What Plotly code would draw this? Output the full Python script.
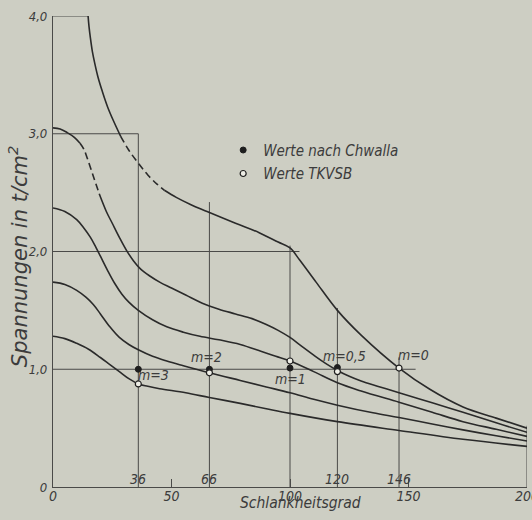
import plotly.graph_objects as go

# ---------------- data ----------------
# m = 0 curve (split: solid / dashed / solid)
m0_x1 = [14.8, 15.2, 15.8, 16.6, 17.6, 19.0, 20.8, 23.0, 25.5, 28.5]
m0_y1 = [4.00, 3.91, 3.81, 3.70, 3.60, 3.48, 3.36, 3.23, 3.11, 2.98]
m0_x2 = [28.5, 32.0, 36.0, 40.0, 44.0, 47.0]
m0_y2 = [2.98, 2.86, 2.75, 2.65, 2.57, 2.52]
m0_x3 = [47, 52, 58, 65, 77, 87, 95, 100, 104, 111, 120, 130, 146, 159, 173, 187, 200]
m0_y3 = [2.52, 2.46, 2.40, 2.34, 2.24, 2.16, 2.08, 2.03, 1.93, 1.74, 1.50, 1.29, 1.01,
         0.83, 0.68, 0.585, 0.50]

# m = 0,5 curve (split: solid / dashed / solid)
m05_x1 = [0, 3, 6, 9, 11.4]
m05_y1 = [3.05, 3.04, 3.01, 2.97, 2.92]
m05_x2 = [11.4, 13.0, 14.5, 16.0, 17.5, 19.5]
m05_y2 = [2.92, 2.87, 2.79, 2.70, 2.61, 2.49]
m05_x3 = [19.5, 22.5, 25, 28, 31, 34, 37, 41, 45, 50, 56, 63, 70, 77, 84, 90, 95, 100,
          105, 110, 115, 120, 125, 130, 138, 146, 160, 173, 187, 200]
m05_y3 = [2.49, 2.34, 2.24, 2.12, 2.01, 1.92, 1.85, 1.79, 1.74, 1.69, 1.63, 1.56, 1.51,
          1.47, 1.43, 1.38, 1.33, 1.27, 1.195, 1.12, 1.05, 0.99, 0.94, 0.90, 0.85, 0.80,
          0.715, 0.635, 0.545, 0.465]

m1_x = [0, 5, 10, 13, 15.8, 18, 20, 23, 26, 29, 32, 36, 42, 48, 55, 62, 70, 79, 88, 94,
        100, 110, 120, 130, 146, 160, 173, 187, 200]
m1_y = [2.37, 2.34, 2.27, 2.20, 2.12, 2.04, 1.96, 1.84, 1.73, 1.64, 1.57, 1.50, 1.42,
        1.36, 1.315, 1.28, 1.25, 1.21, 1.15, 1.11, 1.07, 0.98, 0.885, 0.815, 0.72, 0.635,
        0.555, 0.49, 0.43]

m2_x = [0, 5, 10, 14, 17, 20, 24, 28, 32, 36, 42, 48, 55, 66, 79, 90, 100, 110, 120,
        135, 146, 160, 173, 187, 200]
m2_y = [1.74, 1.72, 1.67, 1.61, 1.55, 1.47, 1.36, 1.27, 1.21, 1.165, 1.11, 1.07, 1.03,
        0.97, 0.905, 0.85, 0.80, 0.745, 0.695, 0.63, 0.59, 0.535, 0.485, 0.435, 0.39]

m3_x = [0, 5, 10, 15, 20, 24, 28, 32, 36, 40, 45, 56, 66, 79, 90, 100, 120, 146, 173, 200]
m3_y = [1.28, 1.26, 1.22, 1.17, 1.10, 1.04, 0.98, 0.92, 0.875, 0.855, 0.835, 0.80, 0.76,
        0.71, 0.665, 0.625, 0.555, 0.48, 0.405, 0.345]

# comparison points
chwalla_x = [36, 66, 100, 120]
chwalla_y = [1.00, 1.00, 1.01, 1.015]
tkvsb_x = [36, 66, 100, 120, 146]
tkvsb_y = [0.875, 0.97, 1.07, 0.98, 1.01]

# construction lines
vline_x = [36, 66, 100, 120, 146, 200]
vline_top = [3.0, 2.42, 2.05, 1.52, 1.10, 0.52]
hline_y = [1.0, 2.0, 3.0, 4.0]
hline_end = [153, 104, 36, 14.8]

# labels
vline_labels = ["36", "66", "120", "146"]
vline_label_x = [36, 66, 120, 146]
m_labels = ["m=3", "m=2", "m=1", "m=0,5", "m=0"]
m_label_x = [42.6, 64.8, 100, 123.2, 152.3]
m_label_y = [0.95, 1.10, 0.92, 1.11, 1.12]

x_ticks = [0, 50, 100, 150, 200]
y_ticks = [0, 1, 2, 3, 4]
y_ticktext = ["0", "1,0", "2,0", "3,0", "4,0"]

# ---------------- style ----------------
BG = "#cdcec3"
INK = "#2a2a2a"
THIN = "#4a4a48"
TXT = "#3c3c3c"
FONT = "Liberation Sans Narrow, DejaVu Sans Condensed, sans-serif"
WIDEFONT = "DejaVu Sans, sans-serif"
DASH = "7px,4px"

fig = go.Figure()

# construction lines
vx, vy = [], []
for x, t in zip(vline_x, vline_top):
    vx += [x, x, None]
    vy += [0, t, None]
for y, e in zip(hline_y, hline_end):
    vx += [0, e, None]
    vy += [y, y, None]
fig.add_trace(go.Scatter(x=vx, y=vy, mode="lines", line=dict(color=THIN, width=1),
                         showlegend=False, hoverinfo="skip"))

segments = [
    (m0_x1, m0_y1, "solid"), (m0_x2, m0_y2, DASH), (m0_x3, m0_y3, "solid"),
    (m05_x1, m05_y1, "solid"), (m05_x2, m05_y2, DASH), (m05_x3, m05_y3, "solid"),
    (m1_x, m1_y, "solid"), (m2_x, m2_y, "solid"), (m3_x, m3_y, "solid"),
]
for xs, ys, d in segments:
    fig.add_trace(go.Scatter(x=xs, y=ys, mode="lines",
                             line=dict(color=INK, width=1.6, dash=d, shape="spline", smoothing=1.0),
                             showlegend=False, hoverinfo="skip"))

fig.add_trace(go.Scatter(x=chwalla_x, y=chwalla_y, mode="markers", name="Werte nach Chwalla",
                         legendgroup="a",
                         marker=dict(size=6, color="#1e1e1e", line=dict(color="#1e1e1e", width=1))))
fig.add_trace(go.Scatter(x=tkvsb_x, y=tkvsb_y, mode="markers", name="Werte TKVSB",
                         legendgroup="b",
                         marker=dict(size=6, color="#eeeee6", line=dict(color="#1e1e1e", width=1.2))))

annotations = []
for t, x in zip(vline_labels, vline_label_x):
    annotations.append(dict(x=x, y=0, xref="x", yref="y", text=t, showarrow=False,
                            yanchor="bottom", yshift=-2,
                            font=dict(family=FONT, size=14, color=TXT, style="italic")))
for t, x, y in zip(m_labels, m_label_x, m_label_y):
    annotations.append(dict(x=x, y=y, xref="x", yref="y", text=t, showarrow=False,
                            font=dict(family=FONT, size=14, color=TXT, style="italic")))
# axis titles
annotations.append(dict(x=0.522, y=-0.033, xref="paper", yref="paper", text="Schlankheitsgrad",
                        showarrow=False, xanchor="center", yanchor="middle",
                        font=dict(family=FONT, size=15.5, color=TXT, style="italic")))
annotations.append(dict(x=-0.074, y=0.49, xref="paper", yref="paper",
                        text="Spannungen in t/cm<sup>2</sup>", textangle=-90,
                        showarrow=False, xanchor="center", yanchor="middle",
                        font=dict(family=WIDEFONT, size=21, color=TXT, style="italic")))

fig.update_layout(
    width=532, height=520,
    margin=dict(l=53, r=5, t=15.5, b=32.5, autoexpand=False),
    paper_bgcolor=BG, plot_bgcolor=BG,
    font=dict(family=FONT, color=TXT, style="italic"),
    showlegend=True,
    legend=dict(x=0.359, y=0.75, xanchor="left", yanchor="top", bgcolor="rgba(0,0,0,0)",
                font=dict(family=FONT, size=15, color=TXT, style="italic"),
                tracegroupgap=1),
    annotations=annotations,
    xaxis=dict(range=[0, 200], showgrid=False, zeroline=False, showline=True,
               linecolor=THIN, linewidth=1.2, ticks="inside", ticklen=8, tickcolor=THIN,
               tickvals=x_ticks, ticktext=[str(v) for v in x_ticks], ticklabelstandoff=-4,
               ticklabeloverflow="allow",
               tickfont=dict(family=FONT, size=14, color=TXT, style="italic")),
    yaxis=dict(range=[0, 4], showgrid=False, zeroline=False, showline=True,
               linecolor=THIN, linewidth=1.2, ticks="", ticklabelstandoff=2,
               tickvals=y_ticks, ticktext=y_ticktext,
               tickfont=dict(family=FONT, size=13, color=TXT, style="italic")),
)

fig.write_html("out.html",
               config={"displayModeBar": False},
               post_script="document.body.style.margin='0px';"
                           "document.body.style.background='#cdcec3';")
